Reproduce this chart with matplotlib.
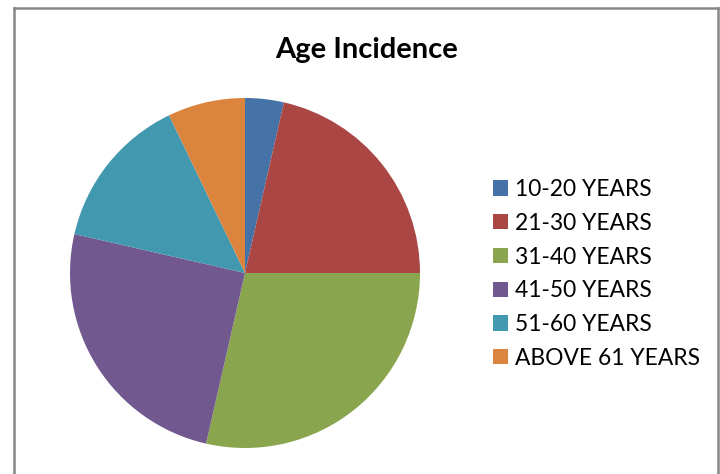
import matplotlib
matplotlib.use("Agg")
import matplotlib.pyplot as plt
from matplotlib.lines import Line2D
from matplotlib.patches import Patch

labels = ["10-20 YEARS", "21-30 YEARS", "31-40 YEARS", "41-50 YEARS", "51-60 YEARS", "ABOVE 61 YEARS"]
counts = [1, 6, 8, 7, 4, 2]
colors = ["#4572A7", "#AA4643", "#89A54E", "#71588F", "#4198AF", "#DB843D"]

plt.rcParams['font.family'] = ['Lato', 'DejaVu Sans']

fig = plt.figure(figsize=(7.2, 4.74), dpi=100)

# chart frame (bottom runs off the picture)
W, H = 720, 474
x0, x1, ytop = 14 / W, 718 / W, 1 - 7.5 / H
for xs, ys in [([x0, x0], [0, ytop]), ([x1, x1], [0, ytop]), ([x0, x1], [ytop, ytop])]:
    fig.add_artist(Line2D(xs, ys, transform=fig.transFigure, color="#868686",
                          linewidth=1.8, zorder=10))

ax = fig.add_axes([70 / W, 1 - 448 / H, 350 / W, 350 / H])
ax.pie(counts, colors=colors, startangle=90, counterclock=False,
       wedgeprops=dict(linewidth=0))
ax.set_xlim(-1, 1)
ax.set_ylim(-1, 1)
ax.set_aspect("equal")

fig.text(367 / W, 1 - 50 / H, "Age Incidence", ha="center", va="center",
         fontsize=21, fontweight="bold")

handles = [Patch(facecolor=c, edgecolor="none") for c in colors]
fig.legend(handles, labels, loc="upper left", bbox_to_anchor=(493 / W, 1 - 179 / H),
           frameon=False, fontsize=16.4, handlelength=0.66, handleheight=0.66,
           handletextpad=0.3, labelspacing=0.56, borderaxespad=0, borderpad=0)

fig.savefig("out.png", dpi=100)
